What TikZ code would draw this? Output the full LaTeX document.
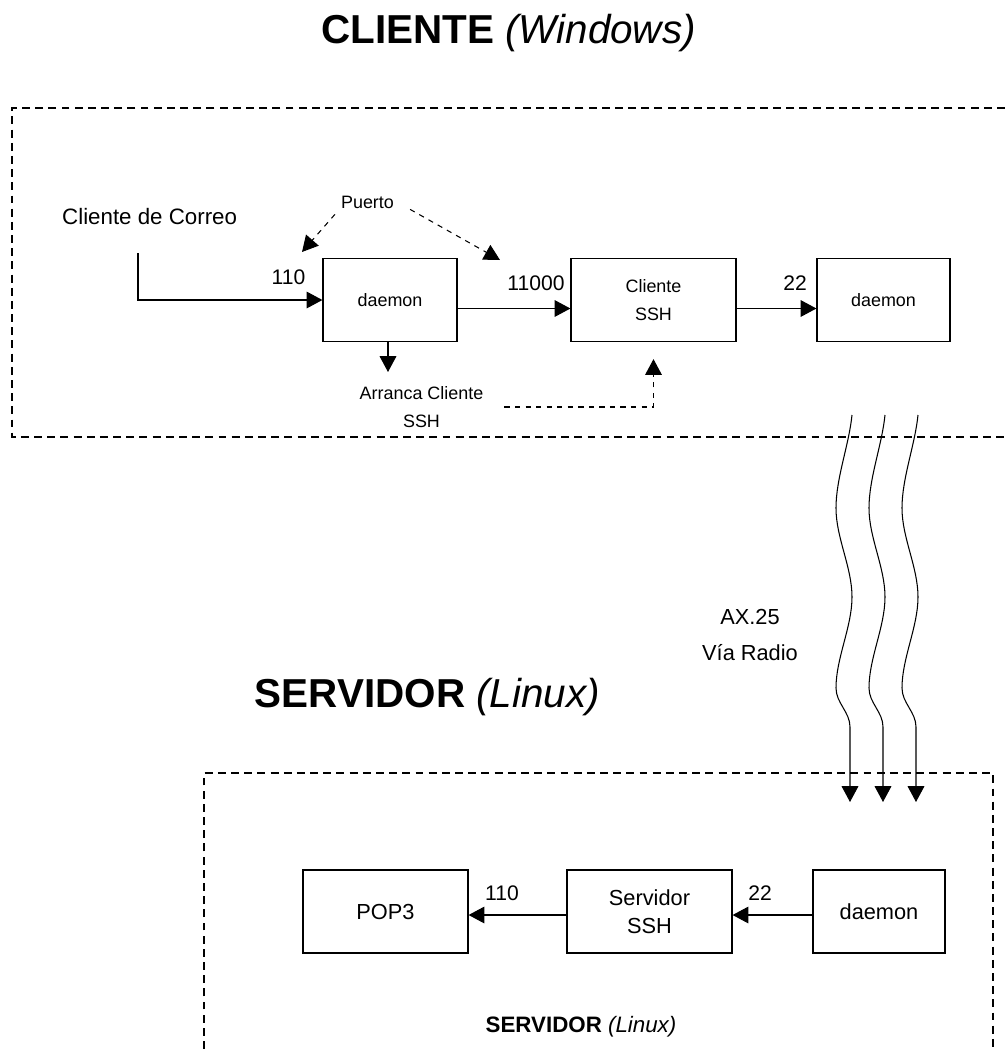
\documentclass[tikz,border=0pt]{standalone}
\usepackage{fontspec}
\setmainfont{Liberation Sans}
\usetikzlibrary{arrows.meta}

\begin{document}
\begin{tikzpicture}[x = 0.02cm, y = -0.02cm,
		caja/.style = {draw, line width = 0.7pt, minimum height = 1.66cm, inner sep = 0pt, align = center},
		flecha/.style = {line width = 0.6pt, -{Triangle[length = 9pt, width = 9.5pt]}},
		marco/.style = {line width = 0.6pt, dash pattern = on 4.5pt off 3pt},
		punteada/.style = {flecha, dash pattern = on 3pt off 3pt},
		chico/.style = {font = \fontsize{10.2pt}{16pt}\selectfont},
		medio/.style = {font = \fontsize{12.4pt}{16pt}\selectfont},
		numero/.style = {font = \fontsize{12pt}{14pt}\selectfont, anchor = base},
		titulo/.style = {font = \fontsize{23pt}{27pt}\selectfont, anchor = base}]
		\useasboundingbox (0,0) rectangle (1005,1049);
		% CLIENTE
		\node [titulo] (tcli) at (508.5,43) {\textbf{CLIENTE} \textit{(Windows)}};
		\draw [marco] (1005,108) -- (12,108) -- (12,437) -- (1005,437);
		\node [font = \fontsize{12.7pt}{15pt}\selectfont, anchor = base west] (correo) at (56,224) {Cliente de Correo};
		\node [chico, anchor = base] (puerto) at (367.5,208) {Puerto};
		\node [caja, chico, minimum width = 2.68cm] (dmnA) at (390,300) {daemon};
		\node [caja, chico, minimum width = 3.30cm] (cssh) at (653.5,300) {Cliente\\SSH};
		\node [caja, chico, minimum width = 2.66cm] (dmnB) at (883.5,300) {daemon};
		\node [numero] (n110) at (288.5,284) {110};
		\node [numero] (n11000) at (536,290) {11000};
		\node [numero] (n22) at (795,290) {22};
		\node [chico, align = center] (arr) at (421.5,407) {Arranca Cliente\\SSH};
		\coordinate (bajada) at (138,253);
		\coordinate (p110) at (302,252);
		\coordinate (p11000) at (500,260);
		\coordinate (arrpunta) at (388,372);
		\draw [flecha] (bajada) |- (dmnA.west);
		\draw [flecha] ([yshift = -0.17cm]dmnA.east) -- ([yshift = -0.17cm]cssh.west);
		\draw [flecha] ([yshift = -0.17cm]cssh.east) -- ([yshift = -0.17cm]dmnB.west);
		\draw [flecha] (dmnA.south -| arrpunta) -- (arrpunta);
		\draw [punteada] (puerto.south west) -- (p110);
		\draw [punteada] ([xshift = 0.2cm, yshift = 0.1cm]puerto.south east) -- (p11000);
		\draw [punteada] ([xshift = 0.3cm]arr.east) -| ([yshift = -0.34cm]cssh.south);
		% enlace de radio
		\foreach \i/\xo in {1/850, 2/883, 3/916} {
			\coordinate (ini\i) at (\xo+2,415);
			\coordinate (fin\i) at (\xo,802);
			\draw [flecha] (ini\i) .. controls +(-3,30) and +(0,-30) .. ++(-16,93)
				.. controls +(0,30) and +(0,-30) .. ++(16,89)
				.. controls +(0,30) and +(0,-30) .. ++(-16,91)
				.. controls +(0,15) and +(0,-15) .. ++(14,39) -- (fin\i);
		}
		\node [medio, align = center, font = \fontsize{12.4pt}{20pt}\selectfont] (radio) at (750,635) {AX.25\\Vía Radio};
		% SERVIDOR
		\node [titulo] (tsrv) at (427.5,707) {\textbf{SERVIDOR} \textit{(Linux)}};
		\draw [marco] (204,1049) -- (204,773) -- (993,773) -- (993,1049);
		\node [caja, medio, minimum width = 3.30cm] (pop) at (385.5,911.5) {POP3};
		\node [caja, medio, minimum width = 3.30cm] (ssrv) at (649.5,911.5) {Servidor\\SSH};
		\node [caja, medio, minimum width = 2.64cm] (dmnS) at (879,911.5) {daemon};
		\node [numero] (s110) at (502,900) {110};
		\node [numero] (s22) at (760,900) {22};
		\draw [flecha] ([yshift = -0.07cm]ssrv.west) -- ([yshift = -0.07cm]pop.east);
		\draw [flecha] ([yshift = -0.07cm]dmnS.west) -- ([yshift = -0.07cm]ssrv.east);
		\node [font = \fontsize{12.7pt}{15pt}\selectfont, anchor = base] (pie) at (581,1032) {\textbf{SERVIDOR} \textit{(Linux)}};
		%\draw (0,0) rectangle (1005,1049);
	\end{tikzpicture}
\end{document}
